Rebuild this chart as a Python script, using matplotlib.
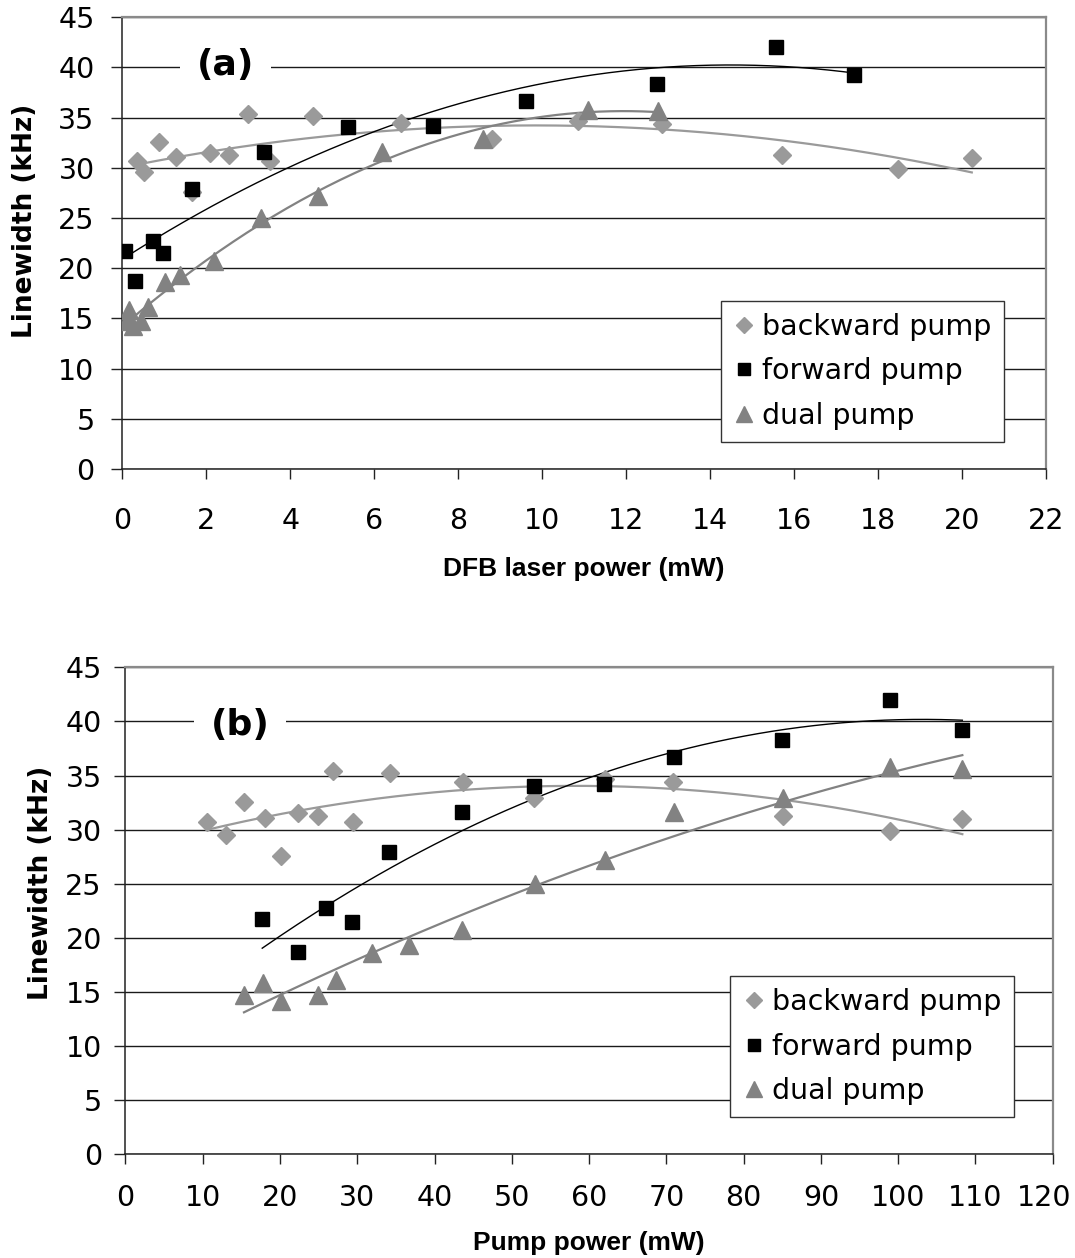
import numpy as np
import matplotlib
matplotlib.use("Agg")
import matplotlib.pyplot as plt
from matplotlib.transforms import ScaledTranslation

# ---------------- data ----------------
# Linewidth (kHz) values, shared by both panels
backward_lw = [30.7, 29.55, 32.6, 31.1, 27.6, 31.5, 31.3, 35.4, 30.7, 35.2,
               34.45, 32.9, 34.7, 34.4, 31.3, 29.9, 31.0]
forward_lw = [21.75, 18.7, 22.75, 21.5, 27.9, 31.6, 34.05, 34.2, 36.7, 38.3,
              42.0, 39.25]
dual_lw = [14.7, 15.8, 14.2, 14.7, 16.1, 18.6, 19.3, 20.7, 25.0, 27.2, 31.6,
           32.9, 35.8, 35.65]

# panel (a): DFB laser power (mW)
backward_dfb = [0.34, 0.52, 0.87, 1.28, 1.65, 2.09, 2.53, 3.0, 3.52, 4.55,
                6.64, 8.8, 10.85, 12.87, 15.71, 18.49, 20.24]
forward_dfb = [0.06, 0.30, 0.72, 0.98, 1.67, 3.38, 5.37, 7.41, 9.61, 12.73,
               15.57, 17.43]
dual_dfb = [0.10, 0.17, 0.25, 0.45, 0.62, 1.02, 1.37, 2.18, 3.3, 4.67, 6.18,
            8.6, 11.1, 12.77]

# panel (b): pump power (mW)
backward_pump = [10.5, 13.0, 15.34, 18.05, 20.12, 22.37, 24.95, 26.9, 29.48,
                 34.23, 43.64, 52.9, 62.06, 70.9, 85.1, 99.0, 108.3]
forward_pump = [17.7, 22.28, 25.9, 29.35, 34.1, 43.5, 52.87, 61.97, 70.99,
                85.0, 98.94, 108.3]
dual_pump = [15.34, 17.84, 20.08, 24.96, 27.2, 31.94, 36.7, 43.6, 53.0,
             62.05, 70.99, 85.1, 99.0, 108.3]

series_labels = ["backward pump", "forward pump", "dual pump"]
yticks = [0, 5, 10, 15, 20, 25, 30, 35, 40, 45]
xticks_a = [0, 2, 4, 6, 8, 10, 12, 14, 16, 18, 20, 22]
xticks_b = [0, 10, 20, 30, 40, 50, 60, 70, 80, 90, 100, 110, 120]

# ---------------- style ----------------
C_BACK = "#9a9a9a"
C_FWD = "#000000"
C_DUAL = "#828282"
TICK_FONT = "DejaVu Sans"
TICK_SIZE = 20.5

fig = plt.figure(figsize=(10.75, 12.58), dpi=100)
ax1 = fig.add_axes([0.1138, 0.6272, 0.8589, 0.3591])
ax2 = fig.add_axes([0.1167, 0.0825, 0.8626, 0.3870])


def trend(ax, x, y, color, lw):
    x = np.asarray(x, float)
    y = np.asarray(y, float)
    c = np.polyfit(x, y, 2)
    xs = np.linspace(x.min(), x.max(), 200)
    ax.plot(xs, np.polyval(c, xs), color=color, lw=lw, zorder=3)


def panel(ax, xb, xf, xd, xticks, xlabel, tag, tag_pos, ylab_x, ylab_y,
          xlab_y, xpad, ypad):
    trend(ax, xb, backward_lw, C_BACK, 1.6)
    trend(ax, xf, forward_lw, C_FWD, 1.0)
    trend(ax, xd, dual_lw, C_DUAL, 1.6)
    ax.plot(xb, backward_lw, ls="none", marker="D", ms=9.5, color=C_BACK,
            mec=C_BACK, label=series_labels[0], zorder=4)
    ax.plot(xf, forward_lw, ls="none", marker="s", ms=10, color=C_FWD,
            mec=C_FWD, label=series_labels[1], zorder=5)
    ax.plot(xd, dual_lw, ls="none", marker="^", ms=13, color=C_DUAL,
            mec=C_DUAL, label=series_labels[2], zorder=6)

    ax.set_xlim(xticks[0], xticks[-1])
    ax.set_ylim(0, 45)
    ax.set_xticks(xticks)
    ax.set_yticks(yticks)
    ax.yaxis.grid(True, color="#1a1a1a", lw=1.0, zorder=0)
    ax.set_axisbelow(True)
    for s in ("top", "right"):
        ax.spines[s].set_color("#8a8a8a")
        ax.spines[s].set_linewidth(1.6)
    for s in ("left", "bottom"):
        ax.spines[s].set_color("#222222")
        ax.spines[s].set_linewidth(1.1)
    ax.xaxis.set_tick_params(direction="out", length=7.5, width=1,
                             color="#222222", labelsize=TICK_SIZE)
    ax.yaxis.set_tick_params(direction="out", length=8, width=1,
                             color="#222222", labelsize=TICK_SIZE)
    ax.xaxis.set_tick_params(pad=xpad)
    ax.yaxis.set_tick_params(pad=ypad)
    for lab in ax.get_xticklabels() + ax.get_yticklabels():
        lab.set_fontfamily(TICK_FONT)

    ax.text(ylab_x, ylab_y, "Linewidth (kHz)", transform=ax.transAxes,
            rotation=90, ha="center", va="center", fontsize=19,
            fontweight="bold", family="DejaVu Sans")
    ax.text(0.5, xlab_y, xlabel, transform=ax.transAxes, ha="center",
            va="center", fontsize=19, fontweight="bold",
            family="Liberation Sans")
    ax.text(tag_pos[0], tag_pos[1], tag, transform=ax.transAxes, ha="center",
            va="center", fontsize=26, fontweight="bold", family="DejaVu Sans",
            bbox=dict(facecolor="white", edgecolor="none", pad=12), zorder=2)


panel(ax1, backward_dfb, forward_dfb, dual_dfb, xticks_a,
      "DFB laser power (mW)", "(a)", (0.112, 0.894), -0.105, 0.55, -0.2214,
      20, 12)
panel(ax2, backward_pump, forward_pump, dual_pump, xticks_b,
      "Pump power (mW)", "(b)", (0.1235, 0.8815), -0.091, 0.557, -0.1824,
      14, 9)

# keep the last "120" label inside the canvas
last = ax2.get_xticklabels()[-1]
last.set_transform(last.get_transform()
                   + ScaledTranslation(-9 / 100, 0, fig.dpi_scale_trans))

for ax, anchor in ((ax1, (0.648, 0.3724)), (ax2, (0.6524, 0.3656))):
    leg = ax.legend(loc="upper left", bbox_to_anchor=anchor, borderaxespad=0,
                    prop={"family": "DejaVu Sans", "size": 20.5},
                    frameon=True, fancybox=False, framealpha=1,
                    edgecolor="#333333", numpoints=1, handlelength=0.8,
                    handletextpad=0.25, borderpad=0.42, labelspacing=0.58,
                    markerscale=0.85)
    leg.get_frame().set_linewidth(1.0)
    leg.set_zorder(10)

fig.savefig("out.png", dpi=100, facecolor="white")
